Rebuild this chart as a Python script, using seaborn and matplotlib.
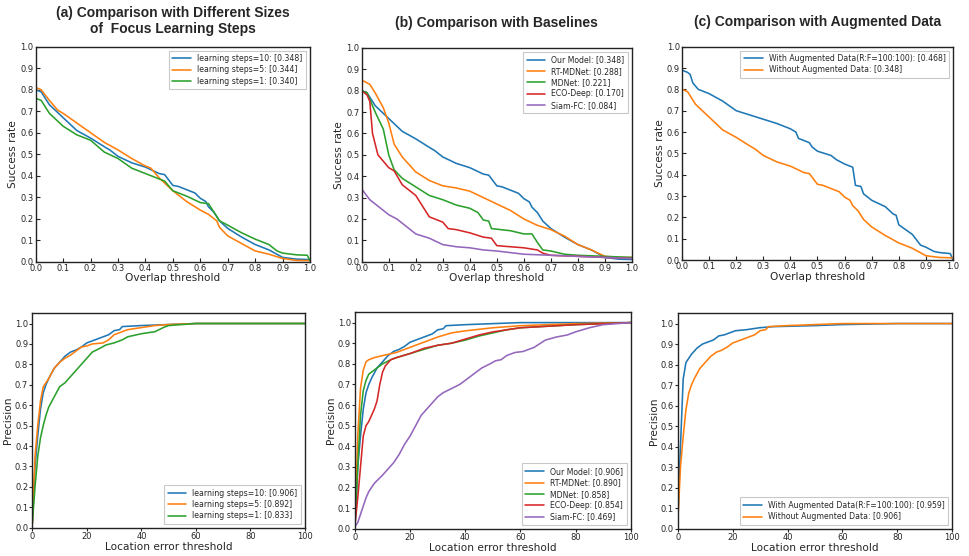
import numpy as np
import pandas as pd
import matplotlib
matplotlib.use("Agg")
import matplotlib.pyplot as plt
import seaborn as sns

# ---------------- data ----------------
# Success plots (overlap threshold)
ours_succ_x = [0, 0.02, 0.05, 0.1, 0.15, 0.2, 0.25, 0.27, 0.3, 0.35, 0.4, 0.45, 0.47, 0.5, 0.52, 0.55, 0.58, 0.6, 0.62, 0.63, 0.65, 0.67, 0.7, 0.75, 0.8, 0.85, 0.9, 0.95, 1.0]
ours_succ_y = [0.80, 0.79, 0.73, 0.67, 0.61, 0.575, 0.535, 0.52, 0.49, 0.46, 0.44, 0.41, 0.405, 0.355, 0.35, 0.335, 0.32, 0.295, 0.28, 0.255, 0.23, 0.19, 0.155, 0.115, 0.08, 0.055, 0.02, 0.012, 0.01]

steps5_succ_x = [0, 0.02, 0.05, 0.08, 0.1, 0.15, 0.2, 0.25, 0.3, 0.35, 0.4, 0.42, 0.45, 0.5, 0.55, 0.6, 0.63, 0.65, 0.66, 0.67, 0.7, 0.75, 0.8, 0.85, 0.9, 0.95, 1.0]
steps5_succ_y = [0.81, 0.80, 0.75, 0.705, 0.69, 0.645, 0.60, 0.555, 0.52, 0.48, 0.445, 0.435, 0.39, 0.33, 0.28, 0.24, 0.22, 0.20, 0.19, 0.16, 0.12, 0.085, 0.05, 0.035, 0.015, 0.006, 0.005]

steps1_succ_x = [0, 0.02, 0.05, 0.1, 0.15, 0.2, 0.25, 0.3, 0.35, 0.4, 0.45, 0.47, 0.5, 0.55, 0.6, 0.63, 0.65, 0.67, 0.7, 0.75, 0.8, 0.85, 0.88, 0.9, 0.95, 0.99, 1.0]
steps1_succ_y = [0.76, 0.75, 0.69, 0.63, 0.59, 0.565, 0.51, 0.48, 0.435, 0.41, 0.385, 0.375, 0.33, 0.305, 0.275, 0.27, 0.23, 0.19, 0.17, 0.135, 0.105, 0.08, 0.05, 0.04, 0.032, 0.03, 0.005]

rtmd_succ_x = [0, 0.03, 0.05, 0.08, 0.1, 0.12, 0.15, 0.2, 0.25, 0.3, 0.35, 0.4, 0.45, 0.5, 0.55, 0.6, 0.65, 0.7, 0.75, 0.8, 0.85, 0.9, 0.95, 1.0]
rtmd_succ_y = [0.85, 0.83, 0.79, 0.72, 0.65, 0.55, 0.49, 0.42, 0.38, 0.355, 0.345, 0.33, 0.30, 0.27, 0.24, 0.20, 0.17, 0.15, 0.12, 0.08, 0.055, 0.025, 0.02, 0.02]

mdnet_succ_x = [0, 0.02, 0.05, 0.08, 0.1, 0.12, 0.15, 0.2, 0.25, 0.3, 0.35, 0.4, 0.43, 0.45, 0.47, 0.48, 0.55, 0.6, 0.63, 0.65, 0.67, 0.7, 0.75, 0.8, 0.9, 1.0]
mdnet_succ_y = [0.80, 0.79, 0.70, 0.62, 0.50, 0.43, 0.39, 0.35, 0.31, 0.29, 0.265, 0.25, 0.23, 0.195, 0.19, 0.155, 0.145, 0.13, 0.13, 0.09, 0.055, 0.05, 0.035, 0.03, 0.025, 0.02]

eco_succ_x = [0, 0.02, 0.03, 0.04, 0.06, 0.1, 0.12, 0.15, 0.2, 0.22, 0.25, 0.3, 0.32, 0.35, 0.4, 0.45, 0.48, 0.5, 0.6, 0.65, 0.67, 0.7, 0.8, 0.9, 1.0]
eco_succ_y = [0.80, 0.78, 0.75, 0.60, 0.50, 0.44, 0.425, 0.36, 0.31, 0.27, 0.21, 0.185, 0.155, 0.15, 0.135, 0.115, 0.11, 0.075, 0.065, 0.055, 0.04, 0.03, 0.025, 0.02, 0.015]

siam_succ_x = [0, 0.03, 0.05, 0.08, 0.1, 0.13, 0.15, 0.2, 0.25, 0.3, 0.35, 0.4, 0.45, 0.5, 0.6, 0.7, 0.8, 0.9, 1.0]
siam_succ_y = [0.34, 0.29, 0.27, 0.24, 0.22, 0.20, 0.18, 0.13, 0.11, 0.08, 0.07, 0.065, 0.055, 0.05, 0.035, 0.03, 0.025, 0.02, 0.015]

aug_succ_x = [0, 0.02, 0.03, 0.04, 0.06, 0.1, 0.15, 0.2, 0.25, 0.3, 0.35, 0.4, 0.42, 0.43, 0.47, 0.48, 0.5, 0.55, 0.57, 0.6, 0.63, 0.64, 0.66, 0.67, 0.7, 0.75, 0.78, 0.79, 0.8, 0.85, 0.88, 0.9, 0.93, 0.95, 0.99, 1.0]
aug_succ_y = [0.89, 0.88, 0.87, 0.83, 0.80, 0.78, 0.745, 0.70, 0.68, 0.66, 0.64, 0.615, 0.60, 0.57, 0.55, 0.53, 0.51, 0.49, 0.47, 0.45, 0.435, 0.35, 0.345, 0.31, 0.28, 0.25, 0.215, 0.21, 0.165, 0.12, 0.07, 0.06, 0.04, 0.035, 0.03, 0.0]

# Precision plots (location error threshold)
ours_prec_x = [0, 1, 2, 3, 4, 5, 6, 8, 10, 12, 14, 16, 18, 20, 22, 25, 28, 30, 32, 33, 40, 50, 60, 100]
ours_prec_y = [0.02, 0.30, 0.45, 0.58, 0.66, 0.70, 0.73, 0.78, 0.81, 0.84, 0.86, 0.87, 0.885, 0.905, 0.915, 0.93, 0.945, 0.965, 0.97, 0.985, 0.99, 0.995, 1.0, 1.0]

steps5_prec_x = [0, 1, 2, 3, 4, 5, 6, 8, 10, 12, 14, 16, 18, 20, 22, 26, 28, 30, 32, 35, 40, 45, 50, 60, 100]
steps5_prec_y = [0.02, 0.35, 0.50, 0.62, 0.69, 0.71, 0.73, 0.78, 0.81, 0.83, 0.845, 0.865, 0.885, 0.89, 0.90, 0.905, 0.92, 0.945, 0.955, 0.97, 0.98, 0.99, 0.995, 1.0, 1.0]

steps1_prec_x = [0, 1, 2, 3, 4, 5, 6, 8, 10, 12, 14, 16, 18, 20, 22, 25, 27, 30, 33, 35, 40, 45, 48, 50, 55, 60, 100]
steps1_prec_y = [0.02, 0.20, 0.35, 0.44, 0.50, 0.55, 0.59, 0.64, 0.69, 0.71, 0.74, 0.77, 0.80, 0.83, 0.86, 0.88, 0.895, 0.905, 0.92, 0.935, 0.95, 0.96, 0.98, 0.99, 0.995, 1.0, 1.0]

rtmd_prec_x = [0, 1, 2, 3, 4, 5, 7, 10, 15, 20, 25, 30, 35, 40, 50, 60, 80, 100]
rtmd_prec_y = [0.02, 0.45, 0.68, 0.77, 0.81, 0.82, 0.83, 0.84, 0.855, 0.88, 0.905, 0.93, 0.95, 0.96, 0.975, 0.985, 0.995, 1.0]

mdnet_prec_x = [0, 1, 2, 3, 4, 5, 7, 10, 13, 15, 20, 25, 30, 35, 40, 45, 50, 55, 60, 80, 100]
mdnet_prec_y = [0.02, 0.30, 0.55, 0.67, 0.72, 0.75, 0.77, 0.80, 0.82, 0.83, 0.85, 0.87, 0.89, 0.90, 0.915, 0.935, 0.95, 0.965, 0.975, 0.99, 1.0]

eco_prec_x = [0, 1, 2, 3, 4, 5, 6, 7, 8, 9, 10, 11, 13, 15, 20, 25, 30, 35, 40, 45, 50, 55, 60, 80, 100]
eco_prec_y = [0.02, 0.15, 0.30, 0.45, 0.50, 0.52, 0.55, 0.58, 0.62, 0.70, 0.76, 0.79, 0.82, 0.83, 0.85, 0.875, 0.89, 0.90, 0.92, 0.94, 0.955, 0.965, 0.975, 0.99, 1.0]

siam_prec_x = [0, 1, 2, 3, 4, 5, 7, 10, 12, 14, 16, 18, 20, 22, 24, 26, 28, 30, 32, 35, 38, 40, 43, 46, 49, 51, 53, 55, 58, 61, 65, 69, 73, 77, 80, 85, 90, 95, 100]
siam_prec_y = [0.01, 0.03, 0.07, 0.11, 0.15, 0.18, 0.22, 0.26, 0.29, 0.32, 0.36, 0.41, 0.45, 0.50, 0.55, 0.58, 0.61, 0.64, 0.66, 0.68, 0.70, 0.72, 0.75, 0.78, 0.80, 0.815, 0.82, 0.84, 0.855, 0.86, 0.88, 0.915, 0.93, 0.94, 0.955, 0.975, 0.99, 0.995, 1.0]

aug_prec_x = [0, 1, 2, 3, 5, 7, 9, 11, 13, 15, 17, 19, 21, 25, 30, 35, 50, 60, 80, 100]
aug_prec_y = [0.02, 0.40, 0.73, 0.81, 0.85, 0.88, 0.90, 0.91, 0.92, 0.94, 0.945, 0.955, 0.965, 0.97, 0.98, 0.985, 0.99, 0.995, 1.0, 1.0]

titles = ["(a) Comparison with Different Sizes\nof  Focus Learning Steps",
          "(b) Comparison with Baselines",
          "(c) Comparison with Augmented Data"]

labels_a_succ = ["learning steps=10: [0.348]", "learning steps=5: [0.344]", "learning steps=1: [0.340]"]
labels_b_succ = ["Our Model: [0.348]", "RT-MDNet: [0.288]", "MDNet: [0.221]", "ECO-Deep: [0.170]", "Siam-FC: [0.084]"]
labels_c_succ = ["With Augmented Data(R:F=100:100): [0.468]", "Without Augmented Data: [0.348]"]
labels_a_prec = ["learning steps=10: [0.906]", "learning steps=5: [0.892]", "learning steps=1: [0.833]"]
labels_b_prec = ["Our Model: [0.906]", "RT-MDNet: [0.890]", "MDNet: [0.858]", "ECO-Deep: [0.854]", "Siam-FC: [0.469]"]
labels_c_prec = ["With Augmented Data(R:F=100:100): [0.959]", "Without Augmented Data: [0.906]"]

# ---------------- styling ----------------
sns.set_style("ticks")
plt.rcParams["font.family"] = ["DejaVu Sans"]
colors = ["#1f77b4", "#ff7f0e", "#2ca02c", "#d62728", "#9467bd"]

W, H = 970, 556
fig = plt.figure(figsize=(W / 100, H / 100), dpi=100)

def rect(l, t, r, b):
    return [l / W, 1 - b / H, (r - l) / W, (b - t) / H]

top_rects = [rect(35.7, 46.7, 310, 261.7), rect(361.7, 48, 632, 261.7), rect(682, 46.7, 953, 260)]
bot_rects = [rect(32.3, 313.3, 305, 527.7), rect(355, 312.3, 630.7, 528.7), rect(677.7, 313.3, 952.3, 528.7)]

top_series = [
    [(ours_succ_x, ours_succ_y), (steps5_succ_x, steps5_succ_y), (steps1_succ_x, steps1_succ_y)],
    [(ours_succ_x, ours_succ_y), (rtmd_succ_x, rtmd_succ_y), (mdnet_succ_x, mdnet_succ_y), (eco_succ_x, eco_succ_y), (siam_succ_x, siam_succ_y)],
    [(aug_succ_x, aug_succ_y), (ours_succ_x, ours_succ_y)],
]
top_labels = [labels_a_succ, labels_b_succ, labels_c_succ]
bot_series = [
    [(ours_prec_x, ours_prec_y), (steps5_prec_x, steps5_prec_y), (steps1_prec_x, steps1_prec_y)],
    [(ours_prec_x, ours_prec_y), (rtmd_prec_x, rtmd_prec_y), (mdnet_prec_x, mdnet_prec_y), (eco_prec_x, eco_prec_y), (siam_prec_x, siam_prec_y)],
    [(aug_prec_x, aug_prec_y), (ours_prec_x, ours_prec_y)],
]
bot_labels = [labels_a_prec, labels_b_prec, labels_c_prec]

tick_fs = 6.0
label_fs = 7.6
legend_fs = 5.6

def style_legend(ax, loc):
    leg = ax.legend(loc=loc, fontsize=legend_fs, frameon=True, fancybox=False,
                    edgecolor="#bbbbbb", handlelength=2.4, borderpad=0.45,
                    labelspacing=0.3, handletextpad=0.8, borderaxespad=0.5)
    leg.get_frame().set_linewidth(0.8)

for i in range(3):
    ax = fig.add_axes(top_rects[i])
    for j, ((xs, ys), lab) in enumerate(zip(top_series[i], top_labels[i])):
        sns.lineplot(x=xs, y=ys, ax=ax, color=colors[j], label=lab, linewidth=1.15, sort=False)
    ax.set_xlim(0, 1)
    ax.set_ylim(0, 1)
    ax.set_xticks(np.arange(0, 1.01, 0.1))
    ax.set_yticks(np.arange(0, 1.01, 0.1))
    ax.xaxis.set_major_formatter(matplotlib.ticker.FormatStrFormatter("%.1f"))
    ax.yaxis.set_major_formatter(matplotlib.ticker.FormatStrFormatter("%.1f"))
    ax.tick_params(direction="in", labelsize=tick_fs, length=3, width=0.8, pad=1.5)
    ax.set_xlabel("Overlap threshold", fontsize=label_fs, labelpad=0.5)
    ax.set_ylabel("Success rate", fontsize=label_fs, labelpad=1.5)
    for s in ax.spines.values():
        s.set_linewidth(1.0)
        s.set_color("#222222")
    style_legend(ax, "upper right")
    ax.set_title(titles[i], fontsize=10, fontweight="bold", family="Liberation Sans",
                 pad=10 if i == 0 else 15)

for i in range(3):
    ax = fig.add_axes(bot_rects[i])
    for j, ((xs, ys), lab) in enumerate(zip(bot_series[i], bot_labels[i])):
        sns.lineplot(x=xs, y=ys, ax=ax, color=colors[j], label=lab, linewidth=1.15, sort=False)
    ax.set_xlim(0, 100)
    ax.set_ylim(0, 1.05)
    ax.set_xticks(np.arange(0, 101, 20))
    ax.set_yticks(np.arange(0, 1.01, 0.1))
    ax.yaxis.set_major_formatter(matplotlib.ticker.FormatStrFormatter("%.1f"))
    ax.tick_params(direction="out", labelsize=tick_fs, length=2, width=0.8, pad=1)
    ax.set_xlabel("Location error threshold", fontsize=label_fs, labelpad=1)
    ax.set_ylabel("Precision", fontsize=label_fs, labelpad=1)
    for s in ax.spines.values():
        s.set_linewidth(1.0)
        s.set_color("#222222")
    style_legend(ax, "lower right")

fig.savefig("out.png", dpi=100)
